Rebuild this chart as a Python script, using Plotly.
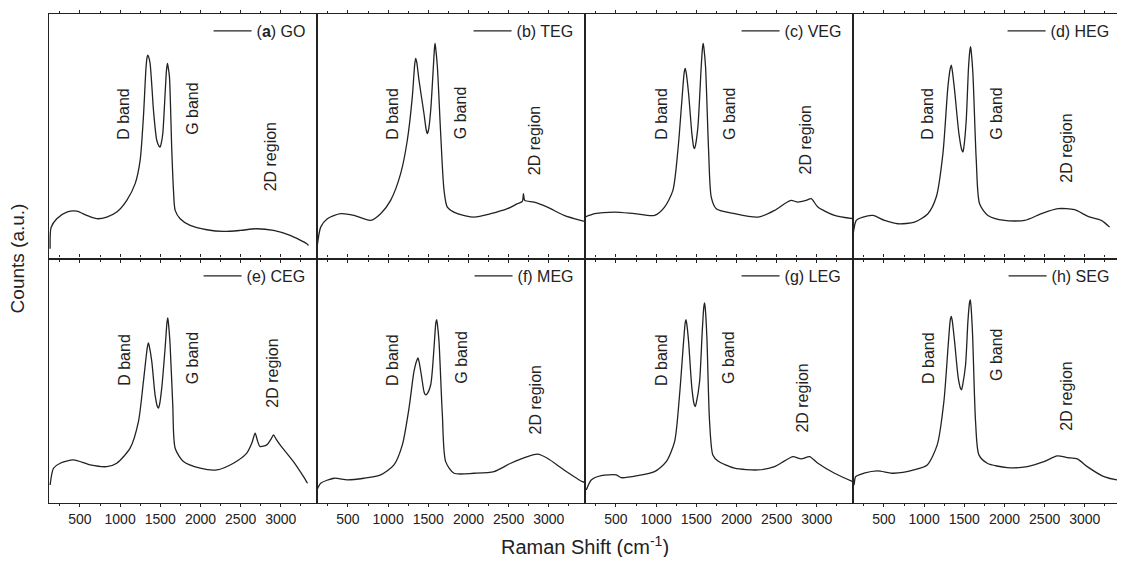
import plotly.graph_objects as go
from plotly.subplots import make_subplots

# ---------------- data (Raman shift in cm^-1, counts in arbitrary units) ----------------
panel_names = ["(<b>a</b>) GO", "(b) TEG", "(c) VEG", "(d) HEG",
               "(e) CEG", "(f) MEG", "(g) LEG", "(h) SEG"]

go_x = [129, 141, 212, 336, 461, 585, 710, 834, 958, 1083, 1187, 1249, 1290, 1323, 1336, 1344, 1356, 1373,
        1395, 1415, 1456, 1485, 1498, 1512, 1531, 1560, 1577, 1589, 1600, 1614, 1643, 1664, 1685, 1747, 1872,
        2079, 2286, 2494, 2701, 2909, 3116, 3323, 3344]
go_y = [9.7, 31, 39.7, 46.3, 47.3, 43, 39.7, 41.3, 46.3, 58, 74.7, 98, 141.3, 191.3, 201, 203, 201, 194.7,
        172, 148, 118, 112, 111.3, 115, 124.7, 164.7, 188, 194.7, 190, 181.3, 108, 68, 48, 39.7, 33,
        28.7, 27, 28, 29.7, 28, 23, 14.7, 13]

teg_x = [111, 161, 244, 409, 575, 782, 907, 1031, 1156, 1239, 1301, 1330, 1343, 1356, 1384, 1446, 1475, 1488,
         1502, 1530, 1563, 1577, 1584, 1592, 1613, 1654, 1696, 1737, 1862, 2069, 2277, 2484, 2609, 2670, 2684,
         2700, 2816, 2982, 3189, 3396, 3450]
teg_y = [8, 31.3, 39.7, 44.7, 43, 38, 44.7, 58, 84.7, 118, 161.3, 193, 199.7, 196, 178, 144.7, 128, 124.7,
         128, 148, 191.3, 210, 214.7, 210, 191.3, 124.7, 68, 51.3, 44.7, 41.3, 44.7, 49.7, 54.7, 57, 64.7,
         58, 56.3, 51.3, 43, 38, 37]

veg_x = [115, 234, 483, 732, 981, 1105, 1209, 1271, 1321, 1350, 1362, 1375, 1404, 1445, 1468, 1478, 1490, 1520,
         1561, 1578, 1586, 1595, 1615, 1653, 1686, 1748, 1976, 2266, 2474, 2598, 2681, 2764, 2867, 2930, 3013,
         3220, 3448]
veg_y = [41.3, 44.7, 46.3, 44.7, 43, 51.3, 68, 108, 158, 186, 189.7, 185, 164.7, 124.7, 111, 109.7, 113, 131.3,
         191.3, 211, 214.7, 210, 191.3, 108, 61.3, 49.7, 44.7, 41.3, 48, 54.7, 58, 56.3, 58, 59.7, 51.3,
         43, 39.7]

heg_x = [115, 156, 239, 363, 508, 674, 881, 1047, 1151, 1234, 1296, 1326, 1338, 1350, 1379, 1433, 1470, 1483,
         1496, 1524, 1553, 1570, 1578, 1587, 1607, 1649, 1690, 1794, 2002, 2251, 2458, 2665, 2873, 3039, 3205,
         3308]
heg_y = [23, 38, 41.3, 43, 38, 34.7, 36.3, 44.7, 61.3, 104.7, 171.3, 190, 193, 188, 168, 124.7, 108, 106.3,
         112, 138, 191.3, 208, 211.3, 206, 184.7, 98, 54.7, 43, 38, 38, 44.7, 49.7, 48.7, 42, 38,
         31.3]

ceg_x = [129, 171, 254, 420, 627, 834, 958, 1124, 1228, 1290, 1340, 1352, 1364, 1394, 1435, 1465, 1477, 1490,
         1518, 1560, 1583, 1593, 1603, 1622, 1655, 1685, 1788, 1996, 2203, 2410, 2576, 2640, 2680, 2710, 2742,
         2825, 2880, 2908, 2940, 2991, 3157, 3282, 3332]
ceg_y = [18, 34.7, 39.7, 43, 38, 36.3, 39.7, 54.7, 81.3, 121.3, 156, 159.7, 156, 141.3, 108, 96, 94.7, 98,
         114.7, 154.7, 180, 184.7, 178, 158, 98, 54.7, 41.3, 34.7, 33, 39.7, 49.7, 60, 69.7, 62, 56.3,
         58, 64, 68, 64, 58, 41.3, 26.3, 19.7]

meg_x = [115, 161, 327, 493, 700, 907, 1073, 1177, 1260, 1322, 1360, 1372, 1385, 1413, 1450, 1467, 1485, 1530,
         1571, 1594, 1604, 1614, 1633, 1675, 1716, 1820, 2069, 2318, 2526, 2733, 2858, 2982, 3189, 3418, 3450]
meg_y = [13, 19.7, 24.7, 23, 24.7, 28, 38, 58, 94.7, 131.3, 143, 144.7, 141, 128, 110, 108, 109, 118,
         154.7, 180, 183, 178, 161.3, 88, 41.3, 29.7, 29.7, 31.3, 39.7, 46.3, 48.7, 44.7, 33, 21.3, 20.5]

leg_x = [131, 193, 317, 504, 566, 773, 981, 1126, 1230, 1292, 1342, 1362, 1371, 1381, 1404, 1445, 1475, 1487,
         1500, 1541, 1574, 1594, 1603, 1612, 1632, 1665, 1706, 1769, 1976, 2266, 2474, 2598, 2702, 2806, 2909,
         3013, 3220, 3448]
leg_y = [13, 23, 27.3, 28, 25.3, 27.3, 31.3, 41.3, 61.3, 108, 161.3, 180, 183, 179, 161.3, 114.7, 98, 96.3,
         100, 121.3, 171.3, 196, 199.7, 194, 164.7, 81.3, 48, 42, 34.7, 33, 36.3, 42, 46.3, 44, 46.3,
         39.7, 29.7, 21.3]

seg_x = [115, 127, 148, 251, 417, 624, 873, 1039, 1163, 1246, 1300, 1326, 1338, 1350, 1379, 1425, 1455, 1466,
         1478, 1516, 1545, 1565, 1574, 1583, 1603, 1640, 1682, 1786, 2035, 2284, 2491, 2657, 2782, 2906, 3030,
         3238, 3412, 3450]
seg_y = [19.7, 18, 26.3, 29.7, 32, 29.7, 33, 38, 58, 101.3, 158, 183, 186.3, 182, 161.3, 124.7, 114, 113,
         117, 138, 181.3, 200, 203, 197, 168, 81.3, 48, 39.7, 35.3, 36.3, 41.3, 47, 45.3, 44, 36.3,
         26.3, 23, 23]

series_x = [go_x, teg_x, veg_x, heg_x, ceg_x, meg_x, leg_x, seg_x]
series_y = [go_y, teg_y, veg_y, heg_y, ceg_y, meg_y, leg_y, seg_y]

# band-label positions (x in cm^-1, y in counts) for each panel: D band, G band, 2D region
d_label = [(1040, 144.7), (1052, 144.7), (1064, 144.7), (1039, 144.7),
           (1062, 143), (1052, 143), (1064, 143), (1048, 144.7)]
g_label = [(1899, 149.7), (1903, 144.7), (1913, 144.7), (1898, 144.7),
           (1899, 144.7), (1903, 144.7), (1893, 144.7), (1898, 148)]
r2d_label = [(2866, 101), (2814, 118), (2855, 118), (2768, 109.7),
             (2886, 129.7), (2836, 103), (2822, 104.7), (2768, 106.3)]

x_tickvals = [500, 1000, 1500, 2000, 2500, 3000]
x_range = [115, 3450]
y_range = [0, 244]

# ---------------- figure ----------------
FONT = "Liberation Sans, Arial, sans-serif"
INK = "#222222"

fig = make_subplots(rows=2, cols=4, horizontal_spacing=0, vertical_spacing=0)

for i in range(8):
    r, c = i // 4 + 1, i % 4 + 1
    leg_id = "legend" if i == 0 else f"legend{i + 1}"
    fig.add_trace(go.Scatter(x=series_x[i], y=series_y[i], mode="lines",
                             line=dict(color=INK, width=1.3, shape="spline", smoothing=0.7),
                             name=panel_names[i], legend=leg_id, showlegend=True),
                  row=r, col=c)
    axn = "" if i == 0 else str(i + 1)
    xref, yref = "x" + axn, "y" + axn
    for (lx, ly), txt in zip([d_label[i], g_label[i], r2d_label[i]], ["D band", "G band", "2D region"]):
        fig.add_annotation(x=lx, y=ly, xref=xref, yref=yref, text=txt, textangle=-90,
                           showarrow=False, font=dict(family=FONT, size=16, color=INK))
    lx_paper = c * 0.25 - 0.006
    ly_paper = 1.0 if r == 1 else 0.499
    fig.update_layout({leg_id: dict(x=lx_paper, y=ly_paper, xanchor="right", yanchor="top",
                                    bgcolor="rgba(0,0,0,0)", borderwidth=0,
                                    font=dict(family=FONT, size=16, color=INK),
                                    itemwidth=38, tracegroupgap=0)})

fig.update_xaxes(range=x_range, tickvals=x_tickvals, showline=True, linecolor=INK, linewidth=1.2,
                 mirror="ticks", ticks="outside", ticklen=3, tickcolor=INK,
                 minor=dict(dtick=250, tick0=0, ticks="outside", ticklen=2, tickcolor=INK),
                 showgrid=False, zeroline=False,
                 tickfont=dict(family=FONT, size=14, color=INK))
fig.update_xaxes(showticklabels=False, row=1)
fig.update_yaxes(range=y_range, showline=True, linecolor=INK, linewidth=1.2, mirror=True,
                 showticklabels=False, ticks="", showgrid=False, zeroline=False)

fig.add_annotation(x=0.5, y=-0.086, xref="paper", yref="paper", yanchor="middle",
                   text="Raman Shift (cm<sup>-1</sup>)", showarrow=False,
                   font=dict(family=FONT, size=20, color=INK))
fig.add_annotation(x=-0.029, y=0.5, xref="paper", yref="paper", xanchor="center",
                   text="Counts (a.u.)", textangle=-90, showarrow=False,
                   font=dict(family=FONT, size=19, color=INK))

# page body keeps an 8 px margin, so the figure is sized to fit inside the window
fig.update_layout(width=1115, height=549, margin=dict(l=41, r=2, t=6, b=54),
                  plot_bgcolor="white", paper_bgcolor="white",
                  font=dict(family=FONT, color=INK))

fig.write_html("out.html")
